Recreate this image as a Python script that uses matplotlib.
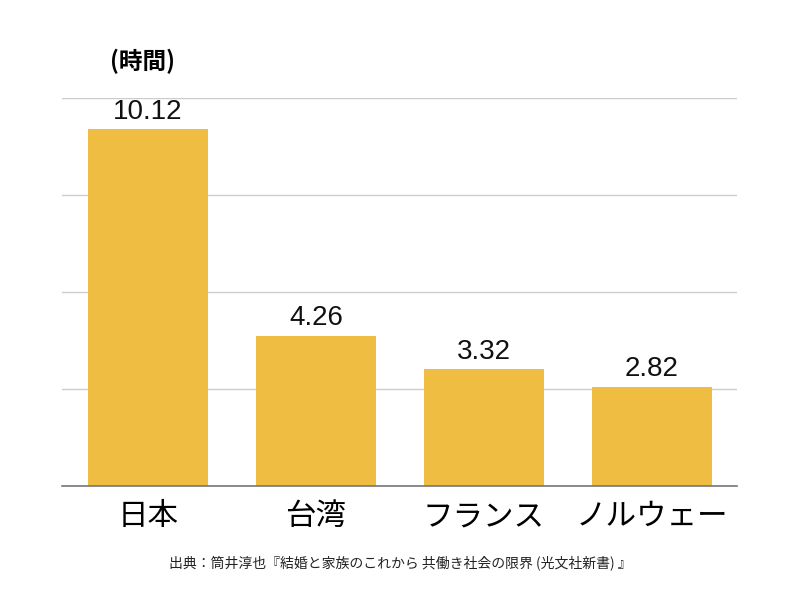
import matplotlib
matplotlib.use("Agg")
import matplotlib.pyplot as plt

plt.rcParams['font.family'] = ['Noto Sans CJK JP', 'DejaVu Sans']

categories = ["日本", "台湾", "フランス", "ノルウェー"]
values = [10.12, 4.26, 3.32, 2.82]
value_labels = ["10.12", "4.26", "3.32", "2.82"]
unit_label = "(時間)"
source = "出典：筒井淳也『結婚と家族のこれから 共働き社会の限界 (光文社新書) 』"

fig = plt.figure(figsize=(8, 6), dpi=100)
ax = fig.add_axes([0.0775, 0.19, 0.8438, 0.6467])

x = range(len(categories))
ax.bar(x, values, width=0.714, color="#EEBD41", zorder=2)
for xi, v, lab in zip(x, values, value_labels):
    ax.text(xi, v + 0.12, lab, ha="center", va="bottom", fontsize=20,
            family=['Liberation Sans', 'DejaVu Sans'], color="#111111")

ax.set_xlim(-0.512, 3.506)
ax.set_ylim(0, 11)
ax.set_yticks([0, 2.75, 5.5, 8.25, 11])
ax.yaxis.grid(True, color="#cccccc", linewidth=1, zorder=0)
ax.tick_params(axis='y', length=0, labelleft=False)
ax.tick_params(axis='x', length=0, labelsize=22, pad=11)
ax.set_xticks(list(x))
ax.set_xticklabels(categories)
for s in ["top", "right", "left"]:
    ax.spines[s].set_visible(False)
ax.spines["bottom"].set_color("#777777")
ax.spines["bottom"].set_linewidth(1.2)
ax.spines["bottom"].set_zorder(3)

fig.text(0.137, 0.898, unit_label, ha="left", va="center", fontsize=17, fontweight="bold")
fig.text(0.5, 0.062, source, ha="center", va="center", fontsize=10, color="#222222")

fig.savefig("out.png", dpi=100)
